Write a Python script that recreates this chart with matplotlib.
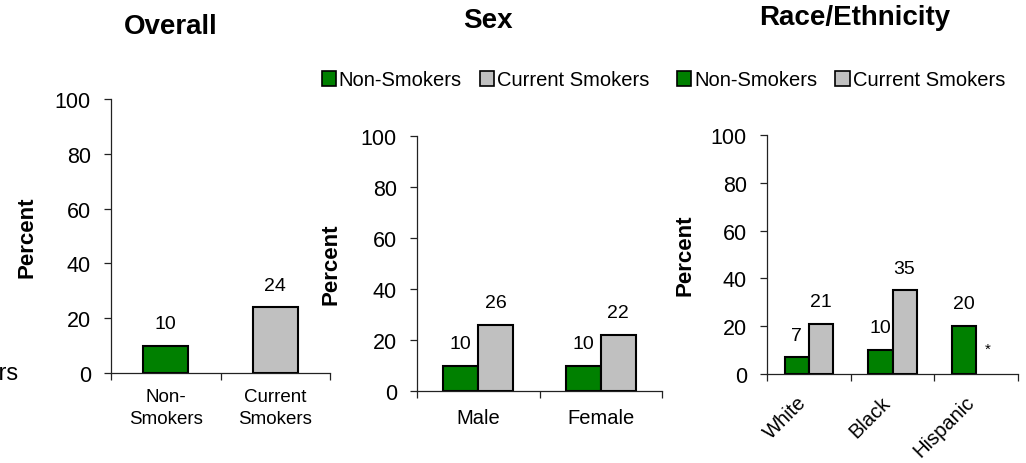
import matplotlib
matplotlib.use('Agg')
import matplotlib.pyplot as plt
import matplotlib.transforms as mtransforms
from matplotlib.patches import Patch
import numpy as np

plt.rcParams['font.family'] = ['Liberation Sans', 'DejaVu Sans']

# ---- data -------------------------------------------------------------
series_names = ['Non-Smokers', 'Current Smokers']

overall_cats = ['Non-\nSmokers', 'Current\nSmokers']
overall_vals = [10, 24]

sex_cats = ['Male', 'Female']
sex_non = [10, 10]
sex_cur = [26, 22]

race_cats = ['White', 'Black', 'Hispanic']
race_non = [7, 10, 20]
race_cur = [21, 35, np.nan]   # Hispanic current smokers suppressed (*)

yticks = [0, 20, 40, 60, 80, 100]

GREEN = '#008000'
GREY = '#C0C0C0'

# ---- figure -----------------------------------------------------------
W, H = 1026, 464
fig = plt.figure(figsize=(W / 100, H / 100), dpi=100)


def px_axes(x0, x1, ytop, ybot):
    return fig.add_axes([x0 / W, 1 - ybot / H, (x1 - x0) / W, (ybot - ytop) / H])


def style(ax, cats, label_right_px, ax_left_px, ax_w_px, xlabel_pad, xlabel_size=13.5):
    n = len(cats)
    ax.set_xlim(0, n)
    ax.set_ylim(0, 100)
    for s in ['top', 'right']:
        ax.spines[s].set_visible(False)
    for s in ['left', 'bottom']:
        ax.spines[s].set_linewidth(0.9)
        ax.spines[s].set_color('#222222')
    ax.set_yticks(yticks)
    ax.tick_params(axis='y', direction='out', length=5, width=0.9,
                   pad=9.5, labelsize=15.5, colors='#222222', labelcolor='black')
    ax.set_xticks(np.arange(n + 1))
    ax.set_xticks(np.arange(n) + 0.5, minor=True)
    ax.set_xticklabels(cats, minor=True)
    ax.tick_params(axis='x', which='major', direction='out', length=5, width=0.9,
                   labelbottom=False, colors='#222222')
    ax.tick_params(axis='x', which='minor', length=0, pad=xlabel_pad,
                   labelsize=xlabel_size)
    for t in ax.get_xticklabels(minor=True):
        t.set_linespacing(1.35)
    ax.set_ylabel('Percent', fontsize=16, fontweight='bold')
    ax.yaxis.set_label_coords((label_right_px - ax_left_px) / ax_w_px, 0.5)


def value_labels(ax, bars, vals):
    for b, v in zip(bars, vals):
        if np.isnan(v):
            continue
        ax.annotate(f'{v:g}', (b.get_x() + b.get_width() / 2, v),
                    xytext=(0, 16), textcoords='offset points',
                    ha='center', va='center', fontsize=14)


bar_kw = dict(edgecolor='black', linewidth=1.5)

# ---- Overall ----------------------------------------------------------
ax1 = px_axes(111, 330, 100, 374)
x1 = np.arange(len(overall_cats)) + 0.5
b1 = ax1.bar(x1, overall_vals, width=0.41, color=[GREEN, GREY], **bar_kw)
value_labels(ax1, b1, overall_vals)
style(ax1, overall_cats, 38, 111, 219, 11)

# ---- Sex --------------------------------------------------------------
ax2 = px_axes(417, 662, 137, 392)
x2 = np.arange(len(sex_cats)) + 0.5
bw = 0.286
b2a = ax2.bar(x2 - bw / 2, sex_non, width=bw, color=GREEN, **bar_kw)
b2b = ax2.bar(x2 + bw / 2, sex_cur, width=bw, color=GREY, **bar_kw)
value_labels(ax2, b2a, sex_non)
value_labels(ax2, b2b, sex_cur)
style(ax2, sex_cats, 342, 417, 245, 12, xlabel_size=14.5)

# ---- Race/Ethnicity ---------------------------------------------------
ax3 = px_axes(767, 1018, 136, 375)
x3 = np.arange(len(race_cats)) + 0.5
bw3 = 0.287
b3a = ax3.bar(x3 - bw3 / 2, race_non, width=bw3, color=GREEN, **bar_kw)
b3b = ax3.bar(x3 + bw3 / 2, np.nan_to_num(race_cur), width=bw3, color=GREY, **bar_kw)
for b, v in zip(b3b, race_cur):
    if np.isnan(v):
        b.set_visible(False)
        ax3.annotate('*', (b.get_x() + b.get_width() / 2, 0),
                     xytext=(0, 15), textcoords='offset points',
                     ha='center', va='baseline', fontsize=11)
value_labels(ax3, b3a, race_non)
value_labels(ax3, b3b, race_cur)
style(ax3, race_cats, 695, 767, 251, 0)
shift = mtransforms.ScaledTranslation(-5 / 100, -25 / 100, fig.dpi_scale_trans)
for t in ax3.get_xticklabels(minor=True):
    t.set_rotation(45)
    t.set_rotation_mode('anchor')
    t.set_ha('right')
    t.set_va('center')
    t.set_fontsize(14.5)
    t.set_transform(t.get_transform() + shift)

# ---- titles & legends -------------------------------------------------
fig.text(170.5 / W, 1 - 27.5 / H, 'Overall', ha='center', va='center',
         fontsize=20, fontweight='bold')
fig.text(487.5 / W, 1 - 21 / H, 'Sex', ha='center', va='center',
         fontsize=20, fontweight='bold')
fig.text(855 / W, 1 - 18 / H, 'Race/Ethnicity', ha='center', va='center',
         fontsize=20, fontweight='bold')

handles = [Patch(facecolor=GREEN, edgecolor='black', linewidth=1.2),
           Patch(facecolor=GREY, edgecolor='black', linewidth=1.2)]
leg_kw = dict(ncol=2, frameon=False, fontsize=14.5, handlelength=0.7,
              handleheight=0.7, handletextpad=0.15, columnspacing=0.9,
              borderpad=0, borderaxespad=0, loc='center')
fig.legend(handles, series_names, bbox_to_anchor=(485.5 / W, 1 - 81 / H), **leg_kw)
fig.legend(handles, series_names, bbox_to_anchor=(841 / W, 1 - 81 / H), **leg_kw)

# trailing label of the neighbouring panel at the left edge
fig.text(19 / W, 1 - 380 / H, 'Smokers', ha='right', va='baseline', fontsize=17)

fig.savefig('out.png', dpi=100)
